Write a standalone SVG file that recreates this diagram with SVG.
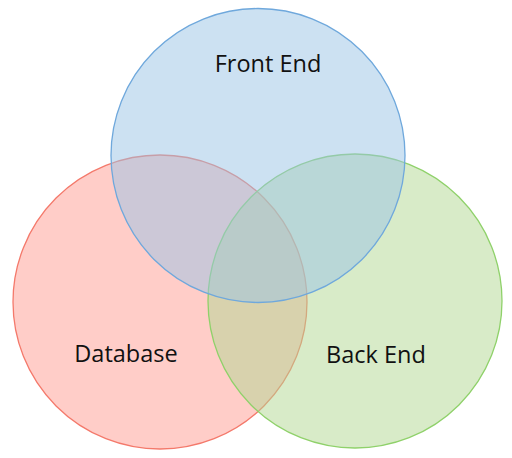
<svg xmlns="http://www.w3.org/2000/svg" width="512" height="458" viewBox="0 0 512 458">
<style>
.c{fill-opacity:0.5;stroke-width:1.3}
.t{font-family:"Open Sans","Liberation Sans",sans-serif;font-size:23.5px;fill:#111;text-anchor:middle;dominant-baseline:central}
</style>
<rect width="512" height="458" fill="#fff"/>
<g id="database"><circle class="c" cx="160" cy="302" r="147" fill="#ff9b91" stroke="#f4796b"/></g>
<g id="backend"><circle class="c" cx="355" cy="301" r="147" fill="#b1d791" stroke="#8fd16a"/></g>
<g id="frontend"><circle class="c" cx="258" cy="155.5" r="147" fill="#99c3e5" stroke="#6fa8dc"/></g>
<g id="connectors"></g>
<text class="t" x="268" y="63">Front End</text>
<text class="t" x="126" y="353">Database</text>
<text class="t" x="376" y="354">Back End</text>
</svg>
